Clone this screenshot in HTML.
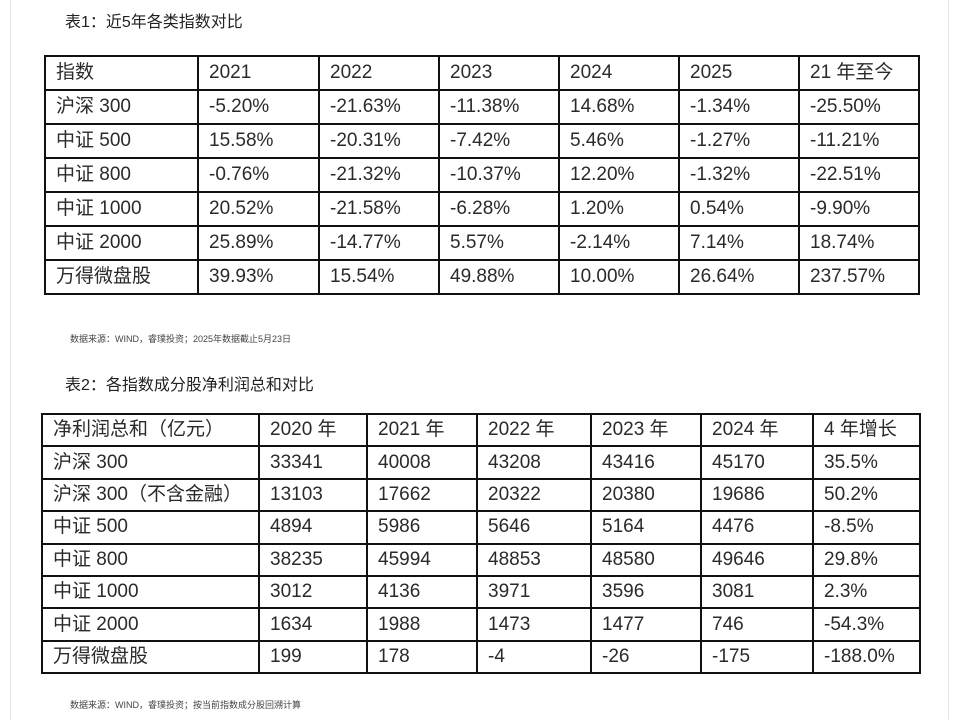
<!DOCTYPE html>
<html><head><meta charset="utf-8"><style>
body{margin:0;width:958px;height:720px;background:#fff;position:relative;overflow:hidden;font-family:"Liberation Sans","Noto Sans CJK SC",sans-serif;color:#222}
.edge{position:absolute;top:0;width:1px;height:720px;background:#e6e6e6}
.title{position:absolute;font-size:16px;color:#222}
.note{position:absolute;font-size:9px;color:#444}
table{position:absolute;border-collapse:collapse;table-layout:fixed}
td{border:2px solid #111;padding:0 0 0 10px;font-size:19px;white-space:nowrap;overflow:hidden;color:#2a2a2a;vertical-align:middle;line-height:22px}
#t1 td{height:32px}
#t2 td{height:30.4px}
</style></head><body>
<div class="edge" style="left:10px"></div>
<div class="edge" style="left:948px"></div>
<div class="title" style="left:65px;top:8px">表1：近5年各类指数对比</div>
<table id="t1" style="left:44px;top:55px;width:874px">
<colgroup><col style="width:153px"><col style="width:121px"><col style="width:120px"><col style="width:120px"><col style="width:120px"><col style="width:120px"><col style="width:120px"></colgroup>
<tr><td>指数</td><td>2021</td><td>2022</td><td>2023</td><td>2024</td><td>2025</td><td>21 年至今</td></tr>
<tr><td>沪深 300</td><td>-5.20%</td><td>-21.63%</td><td>-11.38%</td><td>14.68%</td><td>-1.34%</td><td>-25.50%</td></tr>
<tr><td>中证 500</td><td>15.58%</td><td>-20.31%</td><td>-7.42%</td><td>5.46%</td><td>-1.27%</td><td>-11.21%</td></tr>
<tr><td>中证 800</td><td>-0.76%</td><td>-21.32%</td><td>-10.37%</td><td>12.20%</td><td>-1.32%</td><td>-22.51%</td></tr>
<tr><td>中证 1000</td><td>20.52%</td><td>-21.58%</td><td>-6.28%</td><td>1.20%</td><td>0.54%</td><td>-9.90%</td></tr>
<tr><td>中证 2000</td><td>25.89%</td><td>-14.77%</td><td>5.57%</td><td>-2.14%</td><td>7.14%</td><td>18.74%</td></tr>
<tr><td>万得微盘股</td><td>39.93%</td><td>15.54%</td><td>49.88%</td><td>10.00%</td><td>26.64%</td><td>237.57%</td></tr>
</table>
<div class="note" style="left:70px;top:332px">数据来源：WIND，睿璞投资；2025年数据截止5月23日</div>
<div class="title" style="left:65px;top:371px">表2：各指数成分股净利润总和对比</div>
<table id="t2" style="left:41px;top:413px;width:878px">
<colgroup><col style="width:217px"><col style="width:108px"><col style="width:110px"><col style="width:114px"><col style="width:110px"><col style="width:112px"><col style="width:107px"></colgroup>
<tr><td>净利润总和（亿元）</td><td>2020 年</td><td>2021 年</td><td>2022 年</td><td>2023 年</td><td>2024 年</td><td>4 年增长</td></tr>
<tr><td>沪深 300</td><td>33341</td><td>40008</td><td>43208</td><td>43416</td><td>45170</td><td>35.5%</td></tr>
<tr><td>沪深 300（不含金融）</td><td>13103</td><td>17662</td><td>20322</td><td>20380</td><td>19686</td><td>50.2%</td></tr>
<tr><td>中证 500</td><td>4894</td><td>5986</td><td>5646</td><td>5164</td><td>4476</td><td>-8.5%</td></tr>
<tr><td>中证 800</td><td>38235</td><td>45994</td><td>48853</td><td>48580</td><td>49646</td><td>29.8%</td></tr>
<tr><td>中证 1000</td><td>3012</td><td>4136</td><td>3971</td><td>3596</td><td>3081</td><td>2.3%</td></tr>
<tr><td>中证 2000</td><td>1634</td><td>1988</td><td>1473</td><td>1477</td><td>746</td><td>-54.3%</td></tr>
<tr><td>万得微盘股</td><td>199</td><td>178</td><td>-4</td><td>-26</td><td>-175</td><td>-188.0%</td></tr>
</table>
<div class="note" style="left:70px;top:698px">数据来源：WIND，睿璞投资；按当前指数成分股回溯计算</div>
</body></html>
